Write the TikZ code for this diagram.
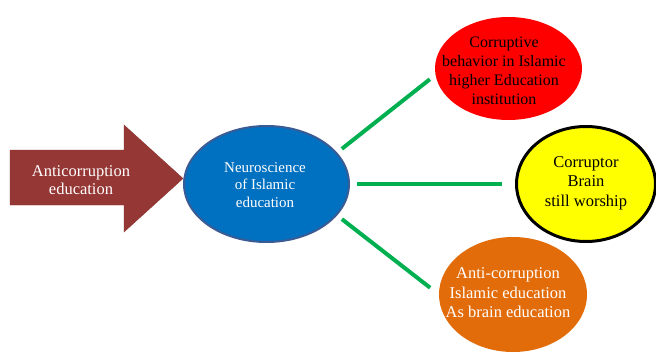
\documentclass[tikz,border=0pt]{standalone}
\usepackage{fontspec}
\setmainfont{Liberation Serif}
\usetikzlibrary{shapes.geometric}
\definecolor{arrowred}{HTML}{953735}
\definecolor{arrowedge}{HTML}{8A3331}
\definecolor{neuroblue}{HTML}{0070C0}
\definecolor{neuroedge}{HTML}{3A5C95}
\definecolor{hotred}{HTML}{FF0000}
\definecolor{brainyellow}{HTML}{FFFF00}
\definecolor{eduorange}{HTML}{E36C0A}
\definecolor{linkgreen}{HTML}{00B050}
\tikzset{bubble/.style={ellipse,inner sep=0pt}}
\tikzset{txt/.style={align=center,inner sep=0pt}}
\tikzset{link/.style={line width=4pt,draw=linkgreen}}

\begin{document}
\begin{tikzpicture}[x=1pt,y=-1pt]
        \useasboundingbox (0,0) rectangle (656,353);

        % big arrow on the left
        \draw[draw=arrowedge,fill=arrowred] (10,150) -- (124,150) -- (124,125) -- (183,178.5)
            -- (124,232) -- (124,205) -- (10,205) -- cycle;
        \node[txt,white,font=\fontsize{16.5}{18}\selectfont] (anti) at (81,180) {Anticorruption\\education};

        \node[bubble,fill=neuroblue,draw=neuroedge,line width=2pt,minimum width=165pt,minimum height=116pt] (neuro) at (266.5,184) {};
        \node[txt,white,font=\fontsize{15}{17.5}\selectfont] (neurotext) at (265,185) {Neuroscience\\of Islamic\\education};

        \node[bubble,fill=hotred,minimum width=147pt,minimum height=103pt] (corrupt) at (508.5,68.5) {};
        \node[txt,font=\fontsize{16}{19}\selectfont] (corrupttext) at (504,71) {Corruptive\\behavior in Islamic\\higher Education\\institution};

        \node[bubble,fill=brainyellow,draw=black,line width=3pt,minimum width=139pt,minimum height=115pt] (brain) at (586,184) {};
        \node[txt,font=\fontsize{16.5}{19.5}\selectfont] (braintext) at (586,183) {Corruptor\\Brain\\still worship};

        \node[bubble,fill=eduorange,minimum width=148pt,minimum height=115pt] (antiedu) at (513,294.5) {};
        \node[txt,white,font=\fontsize{16.5}{19.5}\selectfont] (antiedutext) at (508,293) {Anti-corruption\\Islamic education\\As brain education};

        \draw[link,shorten <=6pt,shorten >=7pt] (neuro.24) -- (corrupt.185);
        \draw[link,shorten <=7pt,shorten >=13pt] (neuro.east) -- (brain.west);
        \draw[link,shorten <=6pt,shorten >=11pt] (neuro.-24) -- (antiedu.west);
    \end{tikzpicture}
\end{document}
